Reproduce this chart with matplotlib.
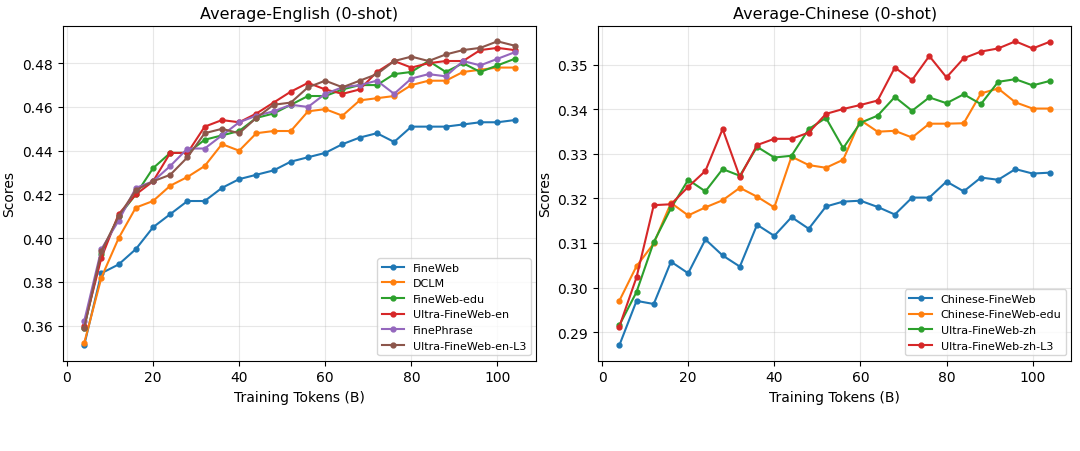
import matplotlib.pyplot as plt
import numpy as np


def plot_data():
    """
    Draws the English and Chinese average scores side by side.
    """
    tokens = np.arange(4, 105, 4)

    # English results
    english = {
        'FineWeb': [.351, .384, .388, .395, .405, .411, .417, .417, .423, .427, .429, .431, .435,
                    .437, .439, .443, .446, .448, .444, .451, .451, .451, .452, .453, .453, .454],
        'DCLM': [.352, .382, .400, .414, .417, .424, .428, .433, .443, .440, .448, .449, .449,
                 .458, .459, .456, .463, .464, .465, .470, .472, .472, .476, .477, .478, .478],
        'FineWeb-edu': [.359, .393, .410, .420, .432, .439, .439, .445, .447, .449, .455, .457, .461,
                        .465, .465, .468, .470, .470, .475, .476, .481, .476, .480, .476, .479, .482],
        'Ultra-FineWeb-en': [.360, .391, .411, .420, .426, .439, .439, .451, .454, .453, .457, .462, .467,
                             .471, .468, .466, .468, .476, .481, .478, .480, .481, .481, .486, .487, .486],
        'FinePhrase': [.362, .395, .408, .423, .426, .433, .441, .441, .447, .453, .456, .458, .461,
                       .460, .466, .469, .470, .472, .466, .473, .475, .474, .481, .479, .482, .485],
        'Ultra-FineWeb-en-L3': [.359, .394, .410, .422, .426, .429, .437, .448, .450, .448, .455, .461, .462,
                                .469, .472, .469, .472, .475, .481, .483, .481, .484, .486, .487, .490, .488],
    }

    # Chinese results
    chinese = {
        'Chinese-FineWeb': [.2870, .2970, .2963, .3058, .3032, .3108, .3072, .3047, .3141, .3116, .3158, .3132, .3182,
                            .3193, .3195, .3181, .3164, .3202, .3202, .3238, .3216, .3247, .3242, .3266, .3256, .3258],
        'Chinese-FineWeb-edu': [.2970, .3048, .3099, .3190, .3162, .3180, .3196, .3224, .3204, .3180, .3294, .3275, .3269,
                                .3287, .3376, .3350, .3352, .3337, .3368, .3368, .3369, .3436, .3447, .3416, .3402, .3402],
        'Ultra-FineWeb-zh': [.2915, .2990, .3102, .3178, .3242, .3216, .3266, .3251, .3316, .3292, .3296, .3356, .3381,
                             .3313, .3370, .3386, .3428, .3397, .3427, .3414, .3434, .3412, .3462, .3468, .3454, .3464],
        'Ultra-FineWeb-zh-L3': [.2912, .3023, .3185, .3187, .3226, .3262, .3356, .3248, .3320, .3334, .3334, .3348, .3390,
                                .3401, .3410, .3420, .3494, .3466, .3520, .3472, .3515, .3530, .3537, .3553, .3537, .3552],
    }

    fig, axes = plt.subplots(1, 2, figsize=(10.8, 4.52), dpi=100)

    panels = [
        (axes[0], english, 'Average-English (0-shot)', '(a) Results on English datasets.'),
        (axes[1], chinese, 'Average-Chinese (0-shot)', '(b) Results on Chinese datasets.'),
    ]
    for ax, results, title, caption in panels:
        for name, scores in results.items():
            ax.plot(tokens, scores, marker='o', markersize=3.5, linewidth=1.5, label=name)
        ax.set_title(title, fontsize=11.5)
        ax.set_xlabel('Training Tokens (B)')
        ax.set_ylabel('Scores')
        ax.grid(True, alpha=0.3)
        ax.legend(loc='lower right', fontsize=8)
        ax.text(0.5, -0.335, caption, transform=ax.transAxes, ha='center',
                fontsize=12, fontweight='bold')

    plt.subplots_adjust(left=0.058, right=0.992, top=0.94, bottom=0.2, wspace=0.13)
    plt.savefig('out.png')
    plt.close()


if __name__ == '__main__':
    plot_data()
